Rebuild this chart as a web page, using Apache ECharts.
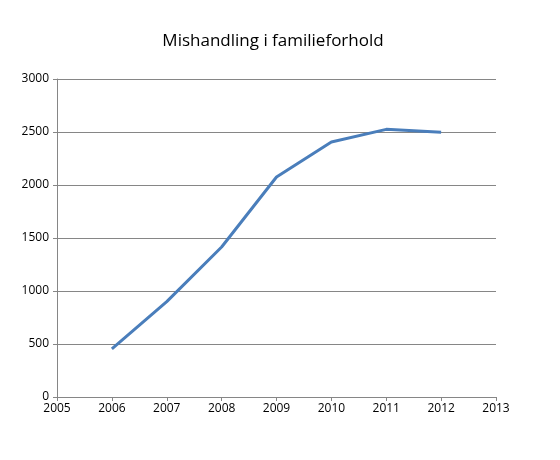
<!DOCTYPE html>
<html>
<head>
<meta charset="utf-8">
<script src="https://cdn.jsdelivr.net/npm/echarts@6/dist/echarts.min.js"></script>
<style>
  html, body { margin: 0; padding: 0; background: #fff; }
  #chart { width: 560px; height: 460px; }
</style>
</head>
<body>
<div id="chart"></div>
<script>
var years = [2006, 2007, 2008, 2009, 2010, 2011, 2012];
var cases = [455, 900, 1415, 2075, 2405, 2525, 2497];

var myChart = echarts.init(document.getElementById('chart'));
var plain = function (v) { return String(v); };
var option = {
    animation: false,
    title: {
        text: 'Mishandling i familieforhold',
        left: 268,
        top: 28,
        textAlign: 'center',
        textStyle: { fontFamily: 'Open Sans', fontSize: 17, fontWeight: 'normal', color: '#000' }
    },
    grid: { left: 57, right: 64, top: 79, bottom: 63 },
    xAxis: {
        type: 'value',
        min: 2005,
        max: 2013,
        interval: 1,
        axisLine: { lineStyle: { color: '#868686', width: 1 } },
        axisTick: { show: true, length: 4, lineStyle: { color: '#868686' } },
        splitLine: { show: false },
        axisLabel: { color: '#000', fontFamily: 'Open Sans', fontSize: 12, margin: 6, formatter: plain }
    },
    yAxis: {
        type: 'value',
        min: 0,
        max: 3000,
        interval: 500,
        axisLine: { show: true, lineStyle: { color: '#868686', width: 1 } },
        axisTick: { show: true, length: 4, lineStyle: { color: '#868686' } },
        splitLine: { lineStyle: { color: '#868686', width: 1 } },
        axisLabel: { color: '#000', fontFamily: 'Open Sans', fontSize: 12, margin: 8, formatter: plain }
    },
    series: [
        {
            name: 'Mishandling i familieforhold',
            type: 'line',
            data: years.map(function (y, i) { return [y, cases[i]]; }),
            showSymbol: false,
            lineStyle: { color: '#4a7ebb', width: 3 }
        }
    ]
};
myChart.setOption(option);
</script>
</body>
</html>
